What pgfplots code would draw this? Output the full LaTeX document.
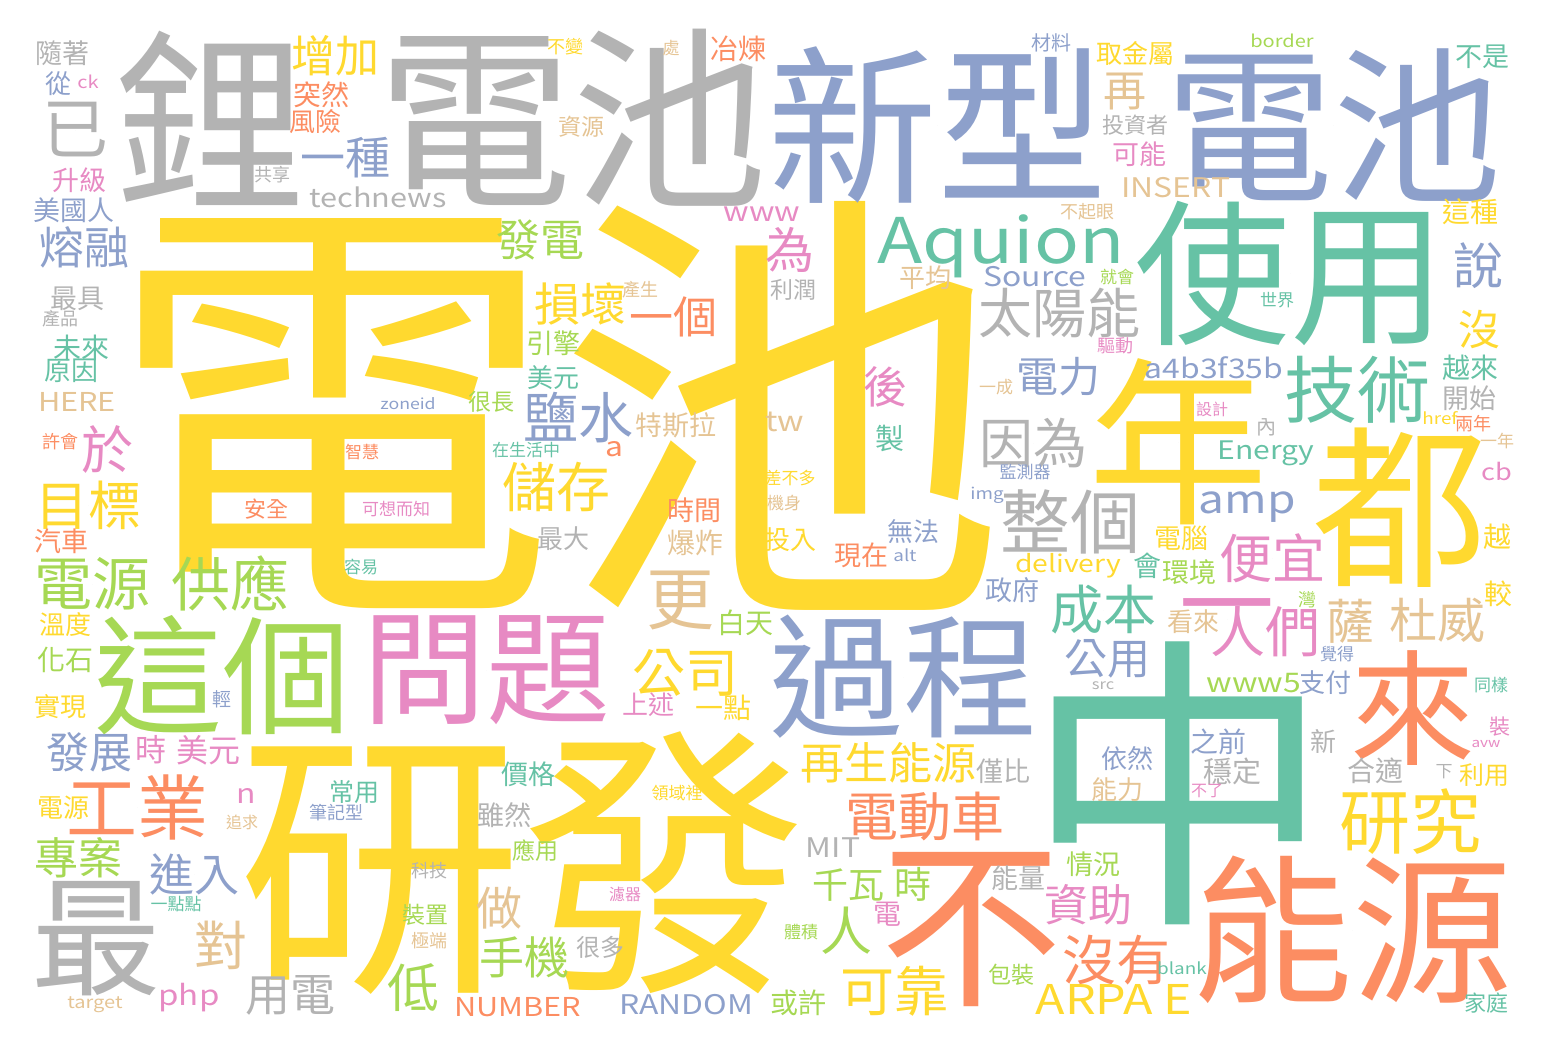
\documentclass[border=0pt]{standalone}
\usepackage{pgfplots}
\usepackage{pgfplotstable}
\usepackage{graphicx}
\pgfplotsset{compat=1.18}
\usepackage{fontspec}
\setmainfont{Noto Sans CJK TC}
\definecolor{cT}{HTML}{66C2A5}
\definecolor{cO}{HTML}{FC8D62}
\definecolor{cB}{HTML}{8DA0CB}
\definecolor{cP}{HTML}{E78AC3}
\definecolor{cG}{HTML}{A6D854}
\definecolor{cY}{HTML}{FFD92F}
\definecolor{cN}{HTML}{E5C494}
\definecolor{cR}{HTML}{B3B3B3}
% word: size (px = pt), colour, text
\protected\def\W#1#2#3{\fontsize{#1pt}{#1pt}\selectfont\color{#2}#3}
\protected\def\L#1#2#3{\fontsize{#1pt}{#1pt}\selectfont\color{#2}\scalebox{1.18}[1]{#3}}

\pgfplotstableread[col sep=comma]{
x,y,w
556,406,\W{450}{cY}{電池}
522,863,\W{285}{cY}{研發}
1178,783,\W{308}{cT}{中}
210,118,\W{192}{cR}{鋰}
572,118,\W{195}{cR}{電池}
937,125,\W{170}{cB}{新型}
1333,125,\W{168}{cB}{電池}
1290,273,\W{156}{cT}{使用}
1178,442,\W{180}{cY}{年}
1400,508,\W{175}{cY}{都}
222,675,\W{128}{cG}{這個}
486,670,\W{124}{cP}{問題}
903,677,\W{134}{cB}{過程}
971,930,\W{182}{cO}{不}
1352,930,\W{160}{cO}{能源}
1413,708,\W{125}{cO}{來}
96,939,\W{130}{cR}{最}
137,807,\W{71}{cO}{工業}
1070,522,\W{70}{cR}{整個}
1357,390,\W{73}{cT}{技術}
1410,822,\W{71}{cY}{研究}
1227,619,\W{95}{cP}{一}
680,600,\W{68}{cN}{更}
1265,632,\W{55}{cP}{人們}
92,584,\W{58}{cG}{電源}
230,584,\W{59}{cG}{供應}
88,505,\W{53}{cY}{目標}
1059,313,\W{54}{cR}{太陽能}
1033,443,\W{54}{cR}{因為}
1103,610,\W{53}{cT}{成本}
556,487,\W{54}{cY}{儲存}
578,418,\W{55}{cB}{鹽水}
1272,558,\W{53}{cP}{便宜}
925,817,\W{53}{cO}{電動車}
1116,960,\W{54}{cO}{沒有}
894,991,\W{54}{cY}{可靠}
685,673,\W{53}{cY}{公司}
75,130,\W{66}{cR}{已}
107,450,\W{52}{cP}{於}
221,945,\W{53}{cN}{對}
1478,266,\W{50}{cB}{說}
846,931,\W{52}{cG}{人}
413,988,\W{52}{cG}{低}
499,908,\W{46}{cN}{做}
790,250,\W{49}{cP}{為}
885,387,\W{44}{cP}{後}
1125,92,\W{43}{cN}{再}
1479,330,\W{42}{cY}{沒}
1350,621,\W{48}{cN}{薩}
1437,620,\W{48}{cN}{杜威}
335,56,\W{44}{cY}{增加}
345,158,\W{45}{cB}{一種}
84,247,\W{45}{cB}{熔融}
540,240,\W{44}{cG}{發電}
580,304,\W{46}{cY}{損壞}
673,317,\W{44}{cO}{一個}
1058,377,\W{42}{cB}{電力}
89,752,\W{43}{cB}{發展}
78,858,\W{44}{cG}{專案}
194,874,\W{45}{cB}{進入}
290,995,\W{45}{cR}{用電}
524,957,\W{45}{cG}{手機}
888,763,\W{44}{cY}{再生能源}
1088,905,\W{44}{cP}{資助}
1107,659,\W{43}{cB}{公用}
848,885,\W{36}{cG}{千瓦}
913,884,\W{37}{cG}{時}
62,53,\W{27}{cR}{隨著}
58,84,\W{26}{cB}{從}
321,95,\W{28}{cO}{突然}
315,122,\W{26}{cO}{風險}
272,175,\W{18}{cR}{共享}
79,180,\W{27}{cP}{升級}
74,210,\W{27}{cB}{美國人}
77,299,\W{27}{cR}{最具}
60,319,\W{18}{cR}{產品}
81,348,\W{28}{cT}{未來}
71,371,\W{27}{cT}{原因}
60,442,\W{18}{cO}{許會}
61,541,\W{27}{cO}{汽車}
65,625,\W{26}{cY}{溫度}
65,660,\W{28}{cG}{化石}
266,509,\W{22}{cO}{安全}
362,452,\W{17}{cO}{智慧}
396,509,\W{17}{cP}{可想而知}
361,567,\W{17}{cT}{容易}
565,47,\W{18}{cY}{不變}
671,48,\W{17}{cN}{處}
738,49,\W{28}{cO}{冶煉}
581,127,\W{23}{cN}{資源}
793,290,\W{23}{cR}{利潤}
640,290,\W{18}{cN}{產生}
553,343,\W{27}{cG}{引擎}
553,378,\W{26}{cT}{美元}
491,402,\W{23}{cG}{很長}
676,425,\W{27}{cN}{特斯拉}
526,450,\W{17}{cT}{在生活中}
694,510,\W{27}{cO}{時間}
563,539,\W{26}{cR}{最大}
695,543,\W{28}{cN}{爆炸}
745,623,\W{28}{cG}{白天}
648,705,\W{26}{cP}{上述}
723,708,\W{28}{cY}{一點}
528,774,\W{27}{cT}{價格}
677,793,\W{17}{cY}{領域裡}
504,815,\W{27}{cR}{雖然}
535,851,\W{23}{cG}{應用}
429,871,\W{18}{cR}{科技}
625,894,\W{16}{cP}{濾器}
425,915,\W{23}{cG}{裝置}
429,941,\W{18}{cN}{極端}
600,947,\W{24}{cR}{很多}
798,1003,\W{28}{cG}{或許}
60,707,\W{26}{cY}{實現}
222,699,\W{19}{cB}{輕}
151,750,\W{31}{cP}{時}
208,750,\W{32}{cP}{美元}
63,808,\W{26}{cY}{電源}
242,822,\W{16}{cN}{追求}
354,792,\W{25}{cT}{常用}
336,813,\W{18}{cB}{筆記型}
176,904,\W{17}{cT}{一點點}
1051,43,\W{20}{cB}{材料}
1135,53,\W{26}{cY}{取金屬}
1135,125,\W{22}{cR}{投資者}
1139,154,\W{27}{cP}{可能}
1087,212,\W{18}{cN}{不起眼}
925,278,\W{26}{cN}{平均}
1117,277,\W{17}{cG}{就會}
1115,346,\W{18}{cP}{驅動}
1482,57,\W{27}{cT}{不是}
1470,212,\W{28}{cY}{這種}
1277,300,\W{17}{cT}{世界}
996,387,\W{17}{cN}{一成}
890,438,\W{29}{cT}{製}
790,478,\W{17}{cY}{差不多}
784,503,\W{17}{cN}{機身}
790,540,\W{26}{cY}{投入}
1025,472,\W{17}{cB}{監測器}
913,532,\W{26}{cB}{無法}
861,555,\W{27}{cO}{現在}
1147,566,\W{28}{cT}{會}
1012,590,\W{27}{cB}{政府}
1193,622,\W{26}{cN}{看來}
1470,368,\W{28}{cT}{越來}
1469,398,\W{27}{cR}{開始}
1212,409,\W{16}{cP}{設計}
1266,427,\W{20}{cR}{內}
1473,424,\W{18}{cO}{兩年}
1497,441,\W{17}{cN}{一年}
1181,538,\W{27}{cY}{電腦}
1497,537,\W{28}{cY}{越}
1189,572,\W{27}{cG}{環境}
1498,594,\W{28}{cY}{較}
1307,600,\W{18}{cG}{灣}
1337,654,\W{17}{cB}{覺得}
1325,683,\W{26}{cB}{支付}
1491,685,\W{17}{cT}{同樣}
1127,759,\W{26}{cB}{依然}
1117,790,\W{26}{cN}{能力}
1218,742,\W{28}{cB}{之前}
1232,771,\W{29}{cR}{穩定}
1207,791,\W{16}{cP}{不了}
1323,741,\W{26}{cR}{新}
1375,771,\W{28}{cR}{合適}
1444,772,\W{17}{cR}{下}
1484,775,\W{25}{cY}{利用}
1500,727,\W{21}{cP}{裝}
1486,1003,\W{22}{cT}{家庭}
1003,771,\W{27}{cR}{僅比}
1018,878,\W{27}{cR}{能量}
1093,864,\W{27}{cG}{情況}
887,914,\W{28}{cP}{電}
801,932,\W{17}{cG}{體積}
1011,975,\W{23}{cG}{包裝}
1001,246,\L{63}{cT}{Aquion}
378,197,\L{26}{cR}{technews}
1035,277,\L{27}{cB}{Source}
1176,188,\L{27}{cN}{INSERT}
1214,368,\L{27}{cB}{a4b3f35b}
1266,453,\L{25.5}{cT}{Energy}
1247,507,\L{39}{cB}{amp}
1068,566,\L{24}{cY}{delivery}
762,214,\L{27}{cP}{www}
1254,683,\L{27}{cG}{www5}
785,422,\L{28}{cN}{tw}
614,449,\L{27}{cO}{a}
1497,471,\L{23}{cP}{cb}
246,796,\L{27}{cP}{n}
189,998,\L{28}{cP}{php}
77,402,\L{26}{cN}{HERE}
518,1007,\L{26}{cO}{NUMBER}
686,1005,\L{27}{cB}{RANDOM}
833,848,\L{27}{cR}{MIT}
1114,999,\L{41}{cY}{ARPA E}
1282,41,\L{17}{cG}{border}
88,82,\L{17}{cP}{ck}
408,404,\L{15}{cB}{zoneid}
987,495,\L{16}{cB}{img}
905,555,\L{16}{cB}{alt}
1440,418,\L{16}{cY}{href}
1103,686,\L{14}{cR}{src}
1182,968,\L{16}{cT}{blank}
1486,744,\L{13}{cP}{avw}
95,1005,\L{17}{cN}{target}
}\words

\begin{document}
\begin{tikzpicture}
\begin{axis}[
  scale only axis, width=1548pt, height=1052pt,
  xmin=0, xmax=1548, ymin=0, ymax=1052, y dir=reverse,
  hide axis, clip=false,
]
\addplot[only marks, mark=*, mark size=0pt, mark options={draw=none, fill=none},
  point meta=explicit symbolic,
  nodes near coords,
  every node near coord/.append style={anchor=center, inner sep=0pt, outer sep=0pt}]
  table[x=x, y=y, meta=w]{\words};
\end{axis}
\pgfresetboundingbox
\path (0,0) rectangle (1548pt,1052pt);
\end{tikzpicture}
\end{document}
